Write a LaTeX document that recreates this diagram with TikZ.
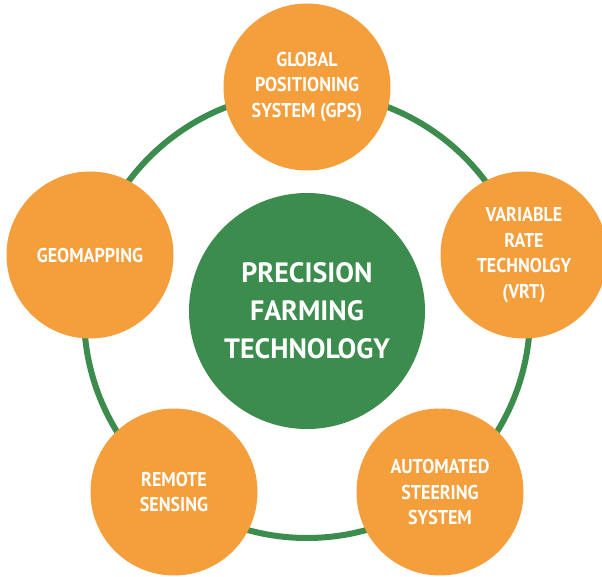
\documentclass[tikz,border=0pt]{standalone}
\usepackage{fontspec}
\newfontfamily\labelfont{PT Sans}
\newfontfamily\spokefont{PT Sans}[FakeStretch=0.9]
\definecolor{pforange}{RGB}{245,158,60}
\definecolor{pfgreen}{RGB}{60,140,78}
\tikzset{
  ringcircle/.style={circle, draw=pfgreen, line width=6pt, minimum size=446pt, inner sep=0pt},
  hubcircle/.style={circle, fill=pfgreen, minimum size=236pt, inner sep=0pt, text=white, align=center,
    font=\labelfont\bfseries\fontsize{28}{38}\selectfont},
  spoke/.style={circle, fill=pforange, minimum size=167pt, inner sep=0pt, text=white, align=center,
    font=\spokefont\bfseries\fontsize{20}{25.5}\selectfont}
}
\begin{document}
\begin{tikzpicture}[x=1pt,y=-1pt]
\useasboundingbox (0,0) rectangle (602,577);
\clip (0,0) rectangle (602,577);
\fill[white] (0,0) rectangle (602,577);
\node[ringcircle] (ring) at (307,315) {};
\node[hubcircle] (hub) at (307,311) {PRECISION\\FARMING\\TECHNOLOGY};
\node[spoke] (gps) at (307,87) {GLOBAL\\POSITIONING\\SYSTEM (GPS)};
\node[spoke] (vrt) at (524,255) {VARIABLE\\RATE\\TECHNOLGY\\(VRT)};
\node[spoke] (geo) at (90,255) {GEOMAPPING};
\node[spoke] (ass) at (440,492) {AUTOMATED\\STEERING\\SYSTEM};
\node[spoke] (rs) at (174,492) {REMOTE\\SENSING};
\end{tikzpicture}
\end{document}
